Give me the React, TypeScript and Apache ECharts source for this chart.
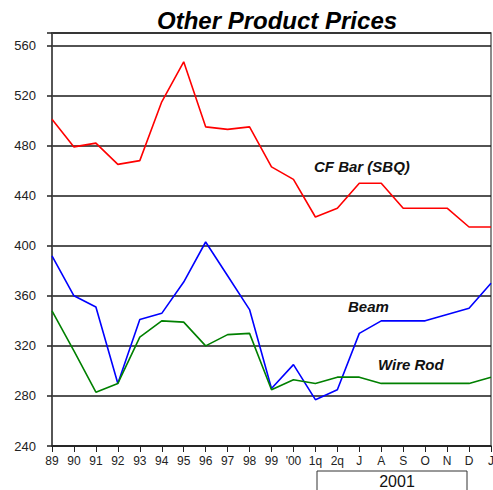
import React, { useEffect, useRef } from "react";
import * as echarts from "echarts";

const categories = ["89", "90", "91", "92", "93", "94", "95", "96", "97", "98", "99", "'00", "1q", "2q", "J", "A", "S", "O", "N", "D", "J"];
const cfBar = [501, 479, 482, 465, 468, 515, 547, 495, 493, 495, 463, 453, 423, 430, 450, 450, 430, 430, 430, 415, 415];
const beam = [392, 360, 351, 290, 341, 346, 371, 403, 376, 349, 286, 305, 277, 285, 330, 340, 340, 340, 345, 350, 370];
const wireRod = [348, 316, 283, 290, 327, 340, 339, 320, 329, 330, 285, 293, 290, 295, 295, 290, 290, 290, 290, 290, 295];
const yTicks = [240, 280, 320, 360, 400, 440, 480, 520, 560];

const FONT = "Arial, 'Liberation Sans', sans-serif";

export default function App() {
  const ref = useRef<HTMLDivElement>(null);

  useEffect(() => {
    if (!ref.current) return;
    const chart = echarts.init(ref.current, null, { renderer: "svg" });
    const lineSeries = (name: string, data: number[], color: string) => ({
      name,
      type: "line",
      data,
      symbol: "none",
      lineStyle: { color, width: 1.6 },
      z: 3,
    });
    chart.setOption({
      animation: false,
      backgroundColor: "#ffffff",
      title: {
        text: "Other Product Prices",
        left: 152,
        top: 3,
        textStyle: { fontFamily: FONT, fontSize: 24, fontWeight: "bold", fontStyle: "italic", color: "#000" },
      },
      grid: {
        left: 52,
        right: 2,
        top: 33,
        bottom: 44,
        containLabel: false,
        outerBoundsMode: "none",
        show: true,
        borderColor: "#666",
        borderWidth: 1.5,
      },
      xAxis: {
        type: "category",
        data: categories,
        boundaryGap: false,
        axisLine: { show: true, lineStyle: { color: "#222", width: 1.5 } },
        axisTick: { show: true, length: 6, lineStyle: { color: "#222", width: 1 }, alignWithLabel: true },
        axisLabel: { fontFamily: FONT, fontSize: 12, color: "#222", margin: 9, interval: 0 },
        splitLine: { show: false },
      },
      yAxis: {
        type: "value",
        min: 240,
        max: 570,
        interval: 40,
        axisLine: { show: true, lineStyle: { color: "#444", width: 1.5 } },
        axisTick: { show: true, length: 5, lineStyle: { color: "#222", width: 1.5 } },
        axisLabel: {
          fontFamily: FONT,
          fontSize: 13,
          color: "#222",
          margin: 16,
          formatter: (v: number) => (yTicks.includes(v) ? String(v) : ""),
        },
        splitLine: { show: true, lineStyle: { color: "#1a1a1a", width: 1.5 } },
      },
      series: [
        lineSeries("CF Bar (SBQ)", cfBar, "#ff0000"),
        lineSeries("Beam", beam, "#0000ff"),
        lineSeries("Wire Rod", wireRod, "#008000"),
      ],
      graphic: [
        {
          type: "text",
          left: 314,
          top: 159,
          style: { text: "CF Bar (SBQ)", font: `italic bold 15px ${FONT}`, fill: "#111" },
        },
        {
          type: "text",
          left: 348,
          top: 299,
          style: { text: "Beam", font: `italic bold 15px ${FONT}`, fill: "#111" },
        },
        {
          type: "text",
          left: 378,
          top: 357,
          style: { text: "Wire Rod", font: `italic bold 15px ${FONT}`, fill: "#111" },
        },
        {
          type: "rect",
          shape: { x: 317, y: 471, width: 150, height: 24 },
          style: { fill: "#fff", stroke: "#333", lineWidth: 1 },
        },
        {
          type: "text",
          x: 397,
          y: 481,
          style: { text: "2001", font: `16px ${FONT}`, fill: "#111", align: "center", verticalAlign: "middle" },
        },
      ],
    });
    return () => chart.dispose();
  }, []);

  return <div ref={ref} style={{ width: 493, height: 490, position: "absolute", left: 0, top: 0 }} />;
}
